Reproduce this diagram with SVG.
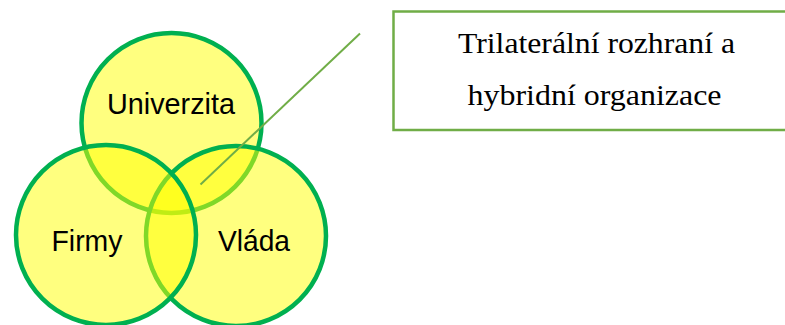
<svg xmlns="http://www.w3.org/2000/svg" width="785" height="325" viewBox="0 0 785 325">
<style>
.c{fill:#FFFF00;fill-opacity:0.5;stroke:#00B050;stroke-width:4.5}
.lbl{font-family:"Liberation Sans",Arial,sans-serif;font-size:29px;fill:#000;text-anchor:middle}
.box{fill:#fff;stroke:#70AD47;stroke-width:2.5}
.bt{font-family:"Liberation Serif","Times New Roman",serif;font-size:30px;fill:#000;text-anchor:middle}
</style>
<rect width="785" height="325" fill="#fff"/>
<g id="univerzita"><circle class="c" cx="171.5" cy="123" r="90"/></g>
<g id="vlada"><circle class="c" cx="236" cy="236" r="90"/></g>
<g id="firmy"><circle class="c" cx="106" cy="235" r="90"/></g>
<g id="labels">
<text class="lbl" x="171" y="113.5" textLength="128" lengthAdjust="spacingAndGlyphs">Univerzita</text>
<text class="lbl" x="87" y="250.5" textLength="71" lengthAdjust="spacingAndGlyphs">Firmy</text>
<text class="lbl" x="254" y="250.5" textLength="72" lengthAdjust="spacingAndGlyphs">Vláda</text>
</g>
<g id="callout">
<rect class="box" x="393.5" y="11.5" width="500" height="118.5"/>
<text class="bt" x="596.5" y="52.5" textLength="277" lengthAdjust="spacingAndGlyphs">Trilaterální rozhraní a</text>
<text class="bt" x="594.5" y="105" textLength="254" lengthAdjust="spacingAndGlyphs">hybridní organizace</text>
</g>
<g id="connectors">
<line x1="360" y1="33.5" x2="200.5" y2="184.5" stroke="#70AD47" stroke-width="2"/>
</g>
</svg>
